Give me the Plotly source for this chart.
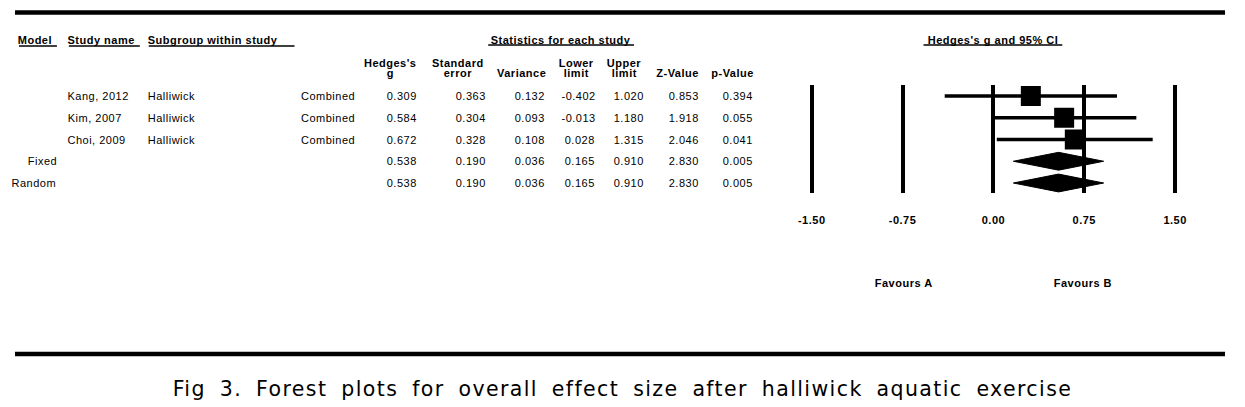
import plotly.graph_objects as go

# ---------------- data ----------------
studies = ["Kang, 2012", "Kim, 2007", "Choi, 2009"]
subgroups = ["Halliwick", "Halliwick", "Halliwick"]
outcomes = ["Combined", "Combined", "Combined"]
models = ["Fixed", "Random"]
hedges_g = [0.309, 0.584, 0.672, 0.538, 0.538]
std_err = [0.363, 0.304, 0.328, 0.190, 0.190]
variance = [0.132, 0.093, 0.108, 0.036, 0.036]
lower = [-0.402, -0.013, 0.028, 0.165, 0.165]
upper = [1.020, 1.180, 1.315, 0.910, 0.910]
z_value = [0.853, 1.918, 2.046, 2.830, 2.830]
p_value = [0.394, 0.055, 0.041, 0.005, 0.005]
tick_vals = [-1.50, -0.75, 0.00, 0.75, 1.50]
tick_labels = ["-1.50", "-0.75", "0.00", "0.75", "1.50"]
col_headers = [["Hedges's", "g"], ["Standard", "error"], ["Variance"], ["Lower", "limit"],
               ["Upper", "limit"], ["Z-Value"], ["p-Value"]]
caption = "Fig 3. Forest plots for overall effect size after halliwick aquatic exercise"

W, H = 1245, 407
FONT = "Liberation Sans, Arial, sans-serif"
LS = 0.5  # letter spacing (px) applied to table text


def px(x):
    return x / W


def py(y):
    return 1 - y / H


n_study = len(studies)
rows_all = list(range(len(hedges_g)))
study_rows = rows_all[:n_study]
model_rows = rows_all[n_study:]

fig = go.Figure()

# study squares with CI lines
fig.add_trace(go.Scatter(
    x=hedges_g[:n_study], y=study_rows, mode="markers",
    marker=dict(symbol="square", size=20, color="black", line=dict(width=0)),
    error_x=dict(type="data", symmetric=False,
                 array=[u - g for u, g in zip(upper[:n_study], hedges_g[:n_study])],
                 arrayminus=[g - l for l, g in zip(lower[:n_study], hedges_g[:n_study])],
                 thickness=3.5, width=0, color="black"),
    showlegend=False, hoverinfo="skip", cliponaxis=False))

# summary diamonds
half = 0.41
for r in model_rows:
    fig.add_trace(go.Scatter(
        x=[lower[r], hedges_g[r], upper[r], hedges_g[r], lower[r]],
        y=[r, r - half, r, r + half, r],
        mode="lines", fill="toself", fillcolor="black",
        line=dict(color="black", width=1), showlegend=False, hoverinfo="skip"))

# ---------------- axes ----------------
x_px0, x_px1 = 800, 1200
zero_px, unit_px = 993, 121.33
y_top, y_bot = 85, 193
row0_px, row_step = 96, 21.75
fig.update_layout(
    width=W, height=H, margin=dict(l=0, r=0, t=0, b=0),
    paper_bgcolor="white", plot_bgcolor="white",
    font=dict(family=FONT, size=11, color="black"),
    xaxis=dict(domain=[px(x_px0), px(x_px1)],
               range=[(x_px0 - zero_px) / unit_px, (x_px1 - zero_px) / unit_px],
               tickvals=tick_vals, ticktext=tick_labels,
               tickfont=dict(family=FONT, size=11, color="black", weight="bold"),
               ticks="outside", ticklen=17, tickcolor="rgba(0,0,0,0)",
               showgrid=True, gridcolor="black", gridwidth=4,
               zeroline=False, showline=False, fixedrange=True),
    yaxis=dict(domain=[py(y_bot), py(y_top)],
               range=[(y_bot - row0_px) / row_step, (y_top - row0_px) / row_step],
               visible=False, showgrid=False, zeroline=False, fixedrange=True),
)

ann = []
PAD = 3.5


def add(text, x, y, xanchor="left", yref="y", size=11, bold=False, family=FONT, spaced=True):
    extra = LS * len(text) / 2 if spaced else 0
    if xanchor == "left":
        x = x - PAD + extra
    elif xanchor == "right":
        x = x - extra
    ann.append(dict(text=text, x=px(x), xref="paper", y=y if yref == "y" else py(y),
                    yref=yref if yref == "y" else "paper", xanchor=xanchor, yanchor="middle",
                    showarrow=False,
                    font=dict(family=family, size=size, color="black",
                              weight="bold" if bold else "normal")))


# headers
add("Model", 17, 40, yref="paper", bold=True)
add("Study name", 67, 40, yref="paper", bold=True)
add("Subgroup within study", 147, 40, yref="paper", bold=True)
add("Statistics for each study", 560, 40, "center", yref="paper", bold=True)
add("Hedges's g and 95% CI", 993, 40, "center", yref="paper", bold=True)

header_centers = [389, 457, 520, 575, 624, 677, 732]
for h, cx in zip(col_headers, header_centers):
    if len(h) == 2:
        add(h[0], cx, 63, "center", yref="paper", bold=True)
        add(h[1], cx, 73, "center", yref="paper", bold=True)
    else:
        add(h[0], cx, 73, "center", yref="paper", bold=True)

# study rows
for i in range(n_study):
    add(studies[i], 67, study_rows[i])
    add(subgroups[i], 147, study_rows[i])
    add(outcomes[i], 301, study_rows[i])
for m, r in zip(models, model_rows):
    add(m, 57, r, "right")

cols = [hedges_g, std_err, variance, lower, upper, z_value, p_value]
right_edges = [418, 487, 546, 596, 645, 700, 754]
for col, xr in zip(cols, right_edges):
    for r in rows_all:
        add(f"{col[r]:.3f}", xr, r, "right")

add("Favours A", 903, 283, "center", yref="paper", bold=True)
add("Favours B", 1083, 283, "center", yref="paper", bold=True)

# caption (last annotation)
add(caption, 621, 389, "center", yref="paper", size=20.5,
    family="DejaVu Sans, sans-serif", spaced=False)

fig.update_layout(annotations=ann)

# underlines and frame lines
shapes = []
for x0, x1, y in [(17, 55, 46), (67, 138, 46), (147, 293, 46), (487, 633, 45), (923, 1062, 45)]:
    shapes.append(dict(type="line", xref="paper", yref="paper", x0=px(x0), x1=px(x1),
                       y0=py(y), y1=py(y), line=dict(color="black", width=1.3)))
for y in [12.5, 354]:
    shapes.append(dict(type="line", xref="paper", yref="paper", x0=px(13), x1=px(1225),
                       y0=py(y), y1=py(y), line=dict(color="black", width=4.5)))
fig.update_layout(shapes=shapes)

post = """
document.body.style.margin='0px';
document.body.style.padding='0px';
var t = document.querySelectorAll('.annotation-text');
for (var i = 0; i < t.length; i++) {
  if (i === t.length - 1) { t[i].style.letterSpacing='1.4px'; t[i].style.wordSpacing='6px'; }
  else { t[i].style.letterSpacing='%spx'; }
}
var k = document.querySelectorAll('.xtick text');
for (var j = 0; j < k.length; j++) { k[j].style.letterSpacing='%spx'; }
""" % (LS, LS)

fig.write_html("out.html", config={"displayModeBar": False}, post_script=post)
